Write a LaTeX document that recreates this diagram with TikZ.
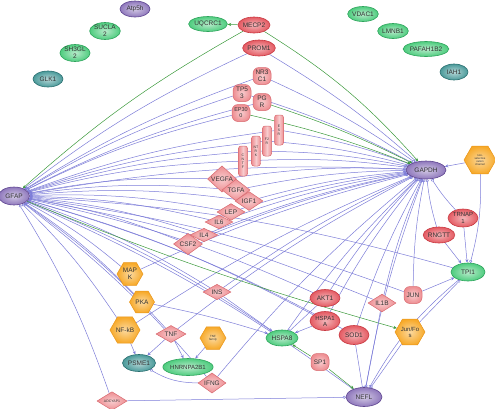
\documentclass[tikz,border=0pt]{standalone}
\usepackage{fontspec}
\setmainfont{Liberation Sans}
\usetikzlibrary{arrows.meta,shapes.geometric,backgrounds}
\definecolor{PurpleClr}{HTML}{8F78BC}
\definecolor{PurpleDrk}{HTML}{5E4590}
\definecolor{GreenClr}{HTML}{4ECC7E}
\definecolor{GreenDrk}{HTML}{2EA45C}
\definecolor{TealClr}{HTML}{4A9A9A}
\definecolor{TealDrk}{HTML}{2B6F70}
\definecolor{RedClr}{HTML}{E45A62}
\definecolor{RedDrk}{HTML}{C83A42}
\definecolor{PinkClr}{HTML}{EE8E92}
\definecolor{PinkDrk}{HTML}{D86A70}
\definecolor{OrangeClr}{HTML}{F7A928}
\definecolor{OrangeDrk}{HTML}{E8951A}
\definecolor{EdgeClr}{HTML}{7D7DD8}
\definecolor{LinkClr}{HTML}{3C9A3C}
\definecolor{TextClr}{HTML}{333333}

\tikzset{
  gene/.style={ellipse,inner sep=0pt,minimum width=30pt,minimum height=16pt,
    line width=.6pt,align=center,text=TextClr,font=\fontsize{6.5}{6.6}\selectfont},
  purplegene/.style={gene,draw=PurpleDrk,inner color=PurpleClr!40!white,outer color=PurpleClr},
  greengene/.style={gene,draw=GreenDrk,inner color=GreenClr!40!white,outer color=GreenClr},
  tealgene/.style={gene,draw=TealDrk,inner color=TealClr!40!white,outer color=TealClr},
  redgene/.style={gene,draw=RedDrk,inner color=RedClr!45!white,outer color=RedClr},
  tfbox/.style={rectangle,rounded corners=6pt,inner sep=0pt,minimum width=18pt,
    minimum height=17pt,draw=PinkDrk,inner color=PinkClr!45!white,outer color=PinkClr,
    line width=.5pt,align=center,text=TextClr,font=\fontsize{6.5}{6.6}\selectfont},
  tallbox/.style={rectangle,rounded corners=2.5pt,inner sep=0pt,minimum width=9pt,
    minimum height=30pt,draw=PinkDrk,left color=PinkClr,right color=PinkClr,
    middle color=PinkClr!45!white,line width=.5pt,align=center,
    text=TextClr,font=\fontsize{3.5}{4}\selectfont},
  cytobox/.style={diamond,inner sep=0pt,minimum width=28pt,minimum height=13pt,
    draw=PinkDrk,inner color=PinkClr!45!white,outer color=PinkClr,line width=.5pt,
    text=TextClr,font=\fontsize{6.5}{6.5}\selectfont},
  hexbox/.style={regular polygon,regular polygon sides=6,inner sep=0pt,minimum size=27pt,
    draw=OrangeDrk,inner color=OrangeClr!45!white,outer color=OrangeClr,line width=.5pt,
    align=center,text=TextClr,font=\fontsize{6.5}{6.6}\selectfont},
  ed/.style={draw=EdgeClr,line width=.5pt},
  edg/.style={draw=LinkClr,line width=.5pt},
  hubout/.style={ed,arrows={Circle[open,length=3pt,width=3pt]-}},
  hubin/.style={ed,arrows={-Circle[open,length=3pt,width=3pt]}},
  arw/.style={ed,arrows={-Stealth[length=3.5pt,width=3pt]}},
  garw/.style={edg,arrows={-Stealth[length=3.5pt,width=3pt]}},
  barw/.style={ed,arrows={-Bar[width=5pt]}},
  carw/.style={ed,arrows={-Circle[open,length=3pt,width=3pt]}}
}

\begin{document}
\begin{tikzpicture}[x=1pt,y=-1pt]
\useasboundingbox (0,0) rectangle (495,408);

\node[purplegene] (Atp5h) at (135,9) {Atp5h};
\node[greengene,minimum height=17pt] (SUCLA2) at (105,31) {SUCLA\\2};
\node[greengene,minimum height=17pt] (SH3GL2) at (75,53) {SH3GL\\2};
\node[tealgene] (GLK1) at (48,79) {GLK1};
\node[greengene,minimum width=34pt,minimum height=15pt] (UQCRC1) at (208,24) {UQCRC1};
\node[redgene,minimum width=32pt] (MECP2) at (254,25) {MECP2};
\node[redgene,minimum width=32pt] (PROM1) at (259,48) {PROM1};
\node[greengene,minimum width=29pt,minimum height=15pt] (VDAC1) at (363,14) {VDAC1};
\node[greengene,minimum width=29pt,minimum height=15pt] (LMNB1) at (393,31) {LMNB1};
\node[greengene,minimum width=39pt,minimum height=15pt] (PAFAH1B2) at (426,49) {PAFAH1B2};
\node[tealgene,minimum width=28pt] (IAH1) at (454,72) {IAH1};

\node[tfbox] (NR3C1) at (262,76) {NR3\\C1};
\node[tfbox] (TP53) at (242,93) {TP5\\3};
\node[tfbox] (PGR) at (262,102) {PG\\R};
\node[tfbox,font=\fontsize{5.5}{6}\selectfont] (EP300) at (241,113) {EP30\\0};
\node[tallbox] (ESR) at (279,130) {E\\S\\R};
\node[tallbox] (F2R) at (267,141) {F2\\R};
\node[tallbox] (NTRK) at (256,151) {NT\\R\\K};
\node[tallbox] (CNTF) at (243,161) {C\\N\\T\\F};

\node[purplegene,minimum width=40pt,minimum height=18pt] (GAPDH) at (426,170) {GAPDH};
\node[hexbox,minimum size=32pt,font=\fontsize{2.8}{3}\selectfont] (Chan) at (480,160) {non-\\selective\\cation\\channel};
\node[purplegene,minimum width=31pt,minimum height=18pt] (GFAP) at (14,196) {GFAP};

\node[cytobox,minimum width=29pt] (VEGFA) at (222,179) {VEGFA};
\node[cytobox] (TGFA) at (236,190) {TGFA};
\node[cytobox] (IGF1) at (249,201) {IGF1};
\node[cytobox] (LEP) at (231,212) {LEP};
\node[cytobox] (IL6) at (219,222) {IL6};
\node[cytobox] (IL4) at (204,235) {IL4};
\node[cytobox,minimum width=29pt] (CSF2) at (188,244) {CSF2};

\node[hexbox,minimum size=26pt] (MAPK) at (130,274) {MAP\\K};
\node[hexbox,minimum size=25pt] (PKA) at (142,302) {PKA};
\node[hexbox,minimum size=28pt] (NFkB) at (125,330) {NF-kB};
\node[cytobox,minimum width=30pt,minimum height=14pt] (TNF) at (171,334) {TNF};
\node[hexbox,minimum size=26pt,font=\fontsize{3}{3.3}\selectfont] (TNFfam) at (213,338) {TNF\\family};
\node[cytobox] (INS) at (217,292) {INS};
\node[tealgene,minimum width=33pt,minimum height=17pt] (PSME1) at (139,363) {PSME1};
\node[greengene,minimum width=46pt,minimum height=17pt,font=\fontsize{6}{6}\selectfont] (HNRNPA2B1) at (188,367) {HNRNPA2B1};
\node[cytobox] (IFNG) at (212,383) {IFNG};
\node[cytobox,minimum width=30pt,minimum height=10pt,font=\fontsize{3.5}{3.5}\selectfont] (ADCYAP1) at (112,401) {ADCYAP1};

\node[redgene,minimum height=17pt] (AKT1) at (325,298) {AKT1};
\node[redgene,minimum height=19pt,font=\fontsize{6}{6.2}\selectfont] (HSPA1A) at (325,321) {HSPA1\\A};
\node[greengene,minimum width=32pt] (HSPA8) at (282,338) {HSPA8};
\node[redgene,minimum height=19pt] (SOD1) at (354,335) {SOD1};
\node[cytobox] (IL1B) at (382,303) {IL1B};
\node[tfbox] (JUN) at (413,295) {JUN};
\node[hexbox,minimum size=26pt,font=\fontsize{6}{6.2}\selectfont] (JunFos) at (410,332) {Jun/Fo\\s};
\node[tfbox] (SP1) at (320,362) {SP1};
\node[purplegene,minimum width=36pt,minimum height=19pt] (NEFL) at (364,397) {NEFL};
\node[redgene,minimum height=18pt,font=\fontsize{6}{6.2}\selectfont] (TRNAP1) at (463,218) {TRNAP\\1};
\node[redgene] (RNGTT) at (439,235) {RNGTT};
\node[greengene,minimum width=34pt,minimum height=18pt] (TPI1) at (468,272) {TPI1};

\begin{scope}[on background layer]
\foreach \n in {PROM1,NR3C1,TP53,PGR,EP300,ESR,F2R,NTRK,CNTF,VEGFA,TGFA,IGF1,LEP,IL6,IL4,CSF2,
  MAPK,PKA,NFkB,TNF,INS,AKT1,HSPA1A,HSPA8,SOD1,IL1B,JUN,IFNG,ADCYAP1,NEFL,TPI1,GAPDH}
  \draw[hubout] (GFAP) to[bend left=6] (\n);
\foreach \n in {PROM1,NR3C1,TP53,ESR,F2R,NTRK,CNTF,VEGFA,TGFA,IGF1,LEP,IL6,IL4,CSF2,
  MAPK,NFkB,TNF,INS,IFNG,AKT1,HSPA1A,HSPA8,SOD1,IL1B,JUN,RNGTT,TRNAP1,NEFL}
  \draw[hubin] (\n) to[bend left=5] (GAPDH);
\draw[garw] (MECP2) -- (UQCRC1);
\draw[garw] (MECP2) to[bend right=6] (GFAP);
\draw[garw] (MECP2) to[bend left=8] (GAPDH);
\draw[garw] (PGR) to[bend left=4] (GAPDH);
\draw[garw] (EP300) to[bend left=4] (GAPDH);
\draw[garw] (GFAP) to[bend right=3] (JunFos);
\draw[arw] (NFkB) -- (PSME1);
\draw[arw] (TNF) -- (PSME1);
\draw[arw] (TNF) -- (HNRNPA2B1);
\draw[arw] (TNFfam) -- (HNRNPA2B1);
\draw[carw] (IFNG) to[bend left=15] (PSME1);
\draw[carw] (ADCYAP1) -- (NEFL);
\draw[arw] (PKA) to[bend left=3] (HSPA8);
\draw[arw] (INS) -- (HSPA8);
\draw[arw] (HSPA1A) -- (HSPA8);
\draw[barw] (AKT1) -- (HSPA8);
\draw[garw] (SP1) -- (HSPA8);
\draw[garw] (SP1) -- (NEFL);
\draw[barw] (SOD1) -- (NEFL);
\draw[carw] (IL1B) -- (NEFL);
\draw[carw] (JunFos) -- (NEFL);
\draw[carw] (TPI1) to[bend right=10] (NEFL);
\draw[arw] (JUN) -- (TPI1);
\draw[arw] (RNGTT) -- (TPI1);
\draw[arw] (TRNAP1) -- (TPI1);
\draw[arw] (Chan) -- (GAPDH);
\draw[carw] (Chan) to[bend left=8] (TPI1);
\draw[carw] (JunFos) -- (TPI1);
\end{scope}

\end{tikzpicture}
\end{document}
